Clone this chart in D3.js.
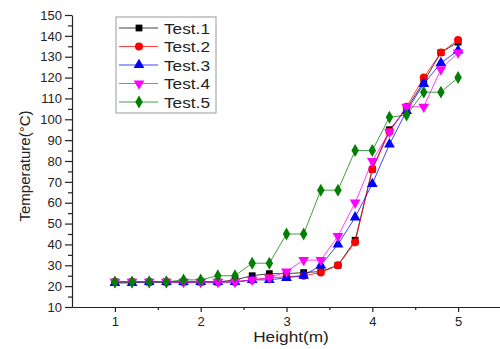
<!DOCTYPE html>
<html>
<head>
<meta charset="utf-8">
<script src="https://cdn.jsdelivr.net/npm/d3@7"></script>
<style>
  body { margin: 0; background: #fff; }
  svg { display: block; font-family: "Liberation Sans", Arial, sans-serif; }
</style>
</head>
<body>
<div id="chart"></div>
<script>
const heights = [1.0, 1.2, 1.4, 1.6, 1.8, 2.0, 2.2, 2.4, 2.6, 2.8, 3.0, 3.2, 3.4, 3.6, 3.8, 4.0, 4.2, 4.4, 4.6, 4.8, 5.0];
const test1 = [22, 22, 22, 22, 22, 22, 22, 23, 25, 26, 26, 26.5, 27, 30, 42, 76, 95, 105, 118, 132, 137];
const test2 = [22, 22, 22, 22, 22, 22, 22, 22, 23, 24, 24.5, 25, 26.5, 30, 41, 76, 94, 106, 120, 132, 138];
const test3 = [21.5, 21.5, 22, 22, 22, 22, 22, 22, 23, 23, 24, 25, 30, 40, 53, 69, 88, 104, 117, 127, 133];
const test4 = [22, 22, 22, 22, 22, 22, 22, 22, 23, 24, 27, 32.5, 32.5, 44, 60, 80, 94, 106, 106, 124, 132];
const test5 = [22, 22, 22, 22, 23, 23, 25, 25, 31, 31, 45, 45, 66, 66, 85, 85, 101, 102, 113, 113, 120];
const seriesNames = ["Test.1", "Test.2", "Test.3", "Test.4", "Test.5"];
const xTicks = [1, 2, 3, 4, 5];
const yTicks = d3.range(10, 151, 10);

const series = [
  { name: seriesNames[0], values: test1, color: "#000000", shape: d3.symbolSquare, size: 46, rot: 0 },
  { name: seriesNames[1], values: test2, color: "#ff0000", shape: d3.symbolCircle, size: 50, rot: 0 },
  { name: seriesNames[2], values: test3, color: "#0000ff", shape: d3.symbolTriangle, size: 50, rot: 0 },
  { name: seriesNames[3], values: test4, color: "#ff00ff", shape: d3.symbolTriangle, size: 50, rot: 180 },
  { name: seriesNames[4], values: test5, color: "#008000", shape: d3.symbolDiamond, size: 48, rot: 0 }
];

const width = 500, height = 349;
const x = d3.scaleLinear().domain([0.5, 5.5]).range([72, 501]);
const y = d3.scaleLinear().domain([10, 150]).range([307, 15]);

const svg = d3.select("#chart").append("svg").attr("width", width).attr("height", height);

// axes
const xAxis = svg.append("g").attr("transform", "translate(0,307)")
  .call(d3.axisBottom(x).tickValues(xTicks).tickFormat(d3.format("d")).tickSizeInner(5).tickSizeOuter(0).tickPadding(5));
svg.append("g").attr("transform", "translate(0,307)")
  .call(d3.axisBottom(x).tickValues([1.5, 2.5, 3.5, 4.5]).tickFormat("").tickSizeInner(3).tickSizeOuter(0))
  .select(".domain").remove();
const yAxis = svg.append("g").attr("transform", "translate(72,0)")
  .call(d3.axisLeft(y).tickValues(yTicks).tickSizeInner(7).tickSizeOuter(0).tickPadding(3));
svg.append("g").attr("transform", "translate(72,0)")
  .call(d3.axisLeft(y).tickValues(d3.range(15, 150, 10)).tickFormat("").tickSizeInner(4).tickSizeOuter(0))
  .select(".domain").remove();

svg.selectAll(".tick text").attr("font-size", 13).attr("fill", "#222").attr("font-family", "Liberation Sans, Arial, sans-serif");
svg.selectAll(".domain, .tick line").attr("stroke", "#222").attr("stroke-width", 1.2);

// axis titles
svg.append("text")
  .attr("transform", "translate(291,342) scale(1.15,1)")
  .attr("text-anchor", "middle").attr("font-size", 15).attr("fill", "#222")
  .text("Height(m)");
svg.append("text")
  .attr("transform", "translate(30,166) rotate(-90)")
  .attr("text-anchor", "middle").attr("font-size", 15).attr("fill", "#222")
  .text("Temperature(°C)");

// lines and markers
const line = d3.line().x((d, i) => x(heights[i])).y(d => y(d));
series.forEach(s => {
  const g = svg.append("g");
  g.append("path").datum(s.values)
    .attr("d", line).attr("fill", "none").attr("stroke", s.color).attr("stroke-width", 1).attr("stroke-opacity", 0.75);
  g.selectAll("path.m").data(s.values).join("path").attr("class", "m")
    .attr("d", d3.symbol(s.shape, s.size))
    .attr("transform", (d, i) => `translate(${x(heights[i])},${y(d)}) rotate(${s.rot})`)
    .attr("fill", s.color);
});

// legend
const legend = svg.append("g");
legend.append("rect").attr("x", 116).attr("y", 17).attr("width", 100).attr("height", 96)
  .attr("fill", "#fff").attr("stroke", "#999").attr("stroke-width", 1);
series.forEach((s, i) => {
  const ly = 28 + i * 18.5;
  legend.append("line").attr("x1", 119).attr("x2", 158).attr("y1", ly).attr("y2", ly)
    .attr("stroke", s.color).attr("stroke-width", 1).attr("stroke-opacity", 0.75);
  legend.append("path").attr("d", d3.symbol(s.shape, s.size))
    .attr("transform", `translate(139,${ly}) rotate(${s.rot})`).attr("fill", s.color);
  legend.append("text").attr("transform", `translate(164,${ly + 5.5}) scale(1.15,1)`)
    .attr("font-size", 15).attr("fill", "#222").text(s.name);
});
</script>
</body>
</html>
